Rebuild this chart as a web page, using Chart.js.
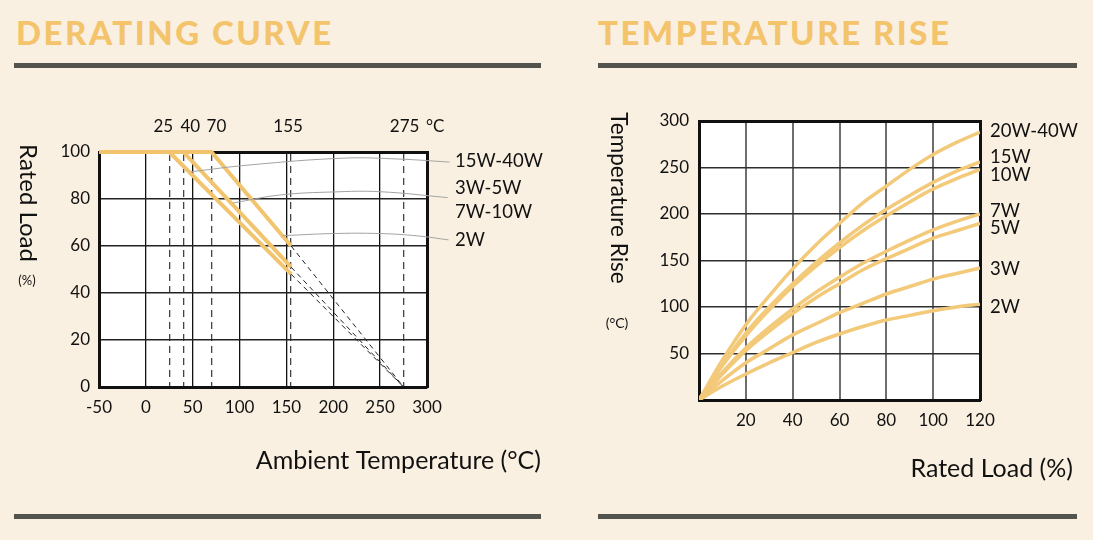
<!DOCTYPE html>
<html>
<head>
<meta charset="utf-8">
<script src="https://cdn.jsdelivr.net/npm/chart.js@4.4.1/dist/chart.umd.min.js"></script>
<style>
  body { margin: 0; width: 1093px; height: 540px; background: #faf0e1; position: relative; overflow: hidden; font-family: Lato, sans-serif; }
  .title { position: absolute; top: 12px; font-size: 33px; font-weight: 900; letter-spacing: 2.5px; color: #f3c46b; white-space: nowrap; }
  .rule { position: absolute; height: 5px; background: #54544e; }
  canvas { position: absolute; top: 0; }
</style>
</head>
<body>
<div class="title" style="left:16px">DERATING CURVE</div>
<div class="title" style="left:598px">TEMPERATURE RISE</div>
<div class="rule" style="left:14px;width:527px;top:63px"></div>
<div class="rule" style="left:598px;width:479px;top:63px"></div>
<div class="rule" style="left:14px;width:527px;top:514px"></div>
<div class="rule" style="left:598px;width:479px;top:514px"></div>
<canvas id="derating" width="560" height="540" style="left:0"></canvas>
<canvas id="rise" width="533" height="540" style="left:560px"></canvas>
<script>
// ---- derating curve data ----
const tempTicks = [-50, 0, 50, 100, 150, 200, 250, 300];
const loadTicks = [0, 20, 40, 60, 80, 100];
const kneeTemps = [25, 40, 70, 155, 275];
const kneeLabels = ['25', '40', '70', '155', '275'];

// [temperature, rated load %]
const curve15to40 = [[-50, 100], [70, 100], [155, 60]];
const curve3to10 = [[-50, 100], [40, 100], [155, 51]];
const curve2 = [[-50, 100], [25, 100], [155, 48]];
const tail15to40 = [[155, 60], [275, 0]];
const tail3to10 = [[155, 51], [275, 0]];
const tail2 = [[155, 48], [275, 0]];

// grey leader lines running out to the labels
const leader15to40 = [[48, 91.6], [111, 94.5], [212, 97.4], [270, 97.0], [324, 95.7]];
const leader3to10 = [[93, 78.3], [143, 81.7], [200, 83.0], [250, 83.1], [322, 80.6]];
const leader2 = [[146, 64.4], [200, 65.3], [250, 65.3], [290, 64.3], [323, 62.6]];

// ---- temperature rise data ----
const loadPoints = [0, 10, 20, 30, 40, 50, 60, 70, 80, 90, 100, 110, 120];
const rise20to40 = [0, 43, 81, 112, 141, 167, 190, 212, 230, 248, 264, 277, 288];
const rise15 = [0, 38, 72, 100, 125, 148, 169, 188, 205, 220, 234, 246, 256];
const rise10 = [0, 37, 69, 97, 122, 144, 164, 182, 198, 213, 227, 238, 248];
const rise7 = [0, 30, 56, 78, 98, 116, 132, 147, 160, 172, 183, 192, 200];
const rise5 = [0, 28, 53, 74, 93, 110, 125, 140, 152, 163, 174, 182, 190];
const rise3 = [0, 21, 40, 55, 70, 82, 94, 104, 114, 122, 130, 136, 142];
const rise2 = [0, 15, 28, 40, 51, 62, 71, 79, 86, 91, 96, 100, 103];
const riseNames = ['20W-40W', '15W', '10W', '7W', '5W', '3W', '2W'];
const riseLabelY = [131, 157, 175, 211, 228, 269, 307];

const orange = '#f2c46d';
const ink = '#111';
const pts = a => a.map(([x, y]) => ({x: x, y: y}));

const whiteArea = {
  id: 'whiteArea',
  beforeDraw(chart) {
    const a = chart.chartArea;
    chart.ctx.save();
    chart.ctx.fillStyle = '#fff';
    chart.ctx.fillRect(a.left, a.top, a.right - a.left, a.bottom - a.top);
    chart.ctx.restore();
  }
};

const mainLine = (data) => ({data: pts(data), borderColor: orange, borderWidth: 4, pointRadius: 0, clip: false});
const tailLine = (data) => ({data: pts(data), borderColor: '#222', borderWidth: 1, borderDash: [5, 4], pointRadius: 0});
const leaderLine = (data) => ({data: pts(data), borderColor: '#a3a3a3', borderWidth: 1, pointRadius: 0, tension: 0.4, clip: false});

new Chart(document.getElementById('derating'), {
  type: 'line',
  data: {
    datasets: [
      leaderLine(leader15to40), leaderLine(leader3to10), leaderLine(leader2),
      tailLine(tail15to40), tailLine(tail3to10), tailLine(tail2),
      mainLine(curve15to40), mainLine(curve3to10), mainLine(curve2)
    ]
  },
  options: {
    responsive: false,
    animation: false,
    layout: {padding: {left: 59, right: 133, top: 152, bottom: 123}},
    plugins: {legend: {display: false}, tooltip: {enabled: false}},
    scales: {
      x: {
        type: 'linear', min: -50, max: 300, position: 'bottom',
        afterBuildTicks: s => { s.ticks = tempTicks.map(v => ({value: v})); },
        grid: {color: ink, lineWidth: 1.3, drawTicks: false},
        border: {color: ink, width: 3},
        ticks: {padding: 10, color: ink, font: {family: 'Lato', size: 17}},
        afterFit: s => { s.height = 30; }
      },
      x2: {
        type: 'linear', min: -50, max: 300, position: 'top',
        afterBuildTicks: s => { s.ticks = kneeTemps.map(v => ({value: v})); },
        grid: {color: '#444', lineWidth: 1.3, drawTicks: false},
        border: {color: ink, width: 3, dash: [7, 5]},
        ticks: {display: false},
        afterFit: s => { s.height = 0; }
      },
      y: {
        min: 0, max: 100,
        afterBuildTicks: s => { s.ticks = loadTicks.map(v => ({value: v})); },
        grid: {color: '#222', lineWidth: 1.4, drawTicks: false},
        border: {color: ink, width: 3},
        ticks: {padding: 9, color: ink, font: {family: 'Lato', size: 17}},
        afterFit: s => { s.width = 40; }
      },
      y2: {
        position: 'right', min: 0, max: 100,
        grid: {display: false},
        border: {color: ink, width: 3},
        ticks: {display: false},
        afterFit: s => { s.width = 0; }
      }
    }
  },
  plugins: [whiteArea, {
    id: 'deratingText',
    afterDraw(chart) {
      const ctx = chart.ctx;
      const x = chart.scales.x;
      ctx.save();
      ctx.fillStyle = ink;
      ctx.textBaseline = 'middle';
      ctx.textAlign = 'center';
      ctx.font = '17px Lato';
      const shift = [-6, 7, 5, -3, 1];
      kneeTemps.forEach((t, i) => ctx.fillText(kneeLabels[i], x.getPixelForValue(t) + shift[i], 127));
      ctx.textAlign = 'left';
      ctx.fillText('°C', 426, 127);

      ctx.font = '18.5px Lato';
      ctx.fillText('15W-40W', 455, 161);
      ctx.fillText('3W-5W', 455, 188);
      ctx.fillText('7W-10W', 455, 212);
      ctx.fillText('2W', 455, 240);

      ctx.font = '25px Lato';
      ctx.textAlign = 'right';
      ctx.fillText('Ambient Temperature (°C)', 541, 461);

      ctx.textAlign = 'center';
      ctx.font = '13px Lato';
      ctx.fillText('(%)', 27, 281);
      ctx.translate(28, 203);
      ctx.rotate(Math.PI / 2);
      ctx.font = '24px Lato';
      ctx.fillText('Rated Load', 0, 0);
      ctx.restore();
    }
  }]
});

// ---- temperature rise chart ----
const riseSeries = [rise20to40, rise15, rise10, rise7, rise5, rise3, rise2];

new Chart(document.getElementById('rise'), {
  type: 'line',
  data: {
    datasets: riseSeries.map((s, i) => ({
      label: riseNames[i],
      data: s.map((v, j) => ({x: loadPoints[j], y: v})),
      borderColor: '#f3c97a', borderWidth: 3.5, pointRadius: 0,
      cubicInterpolationMode: 'monotone'
    }))
  },
  options: {
    responsive: false,
    animation: false,
    layout: {padding: {left: 99, right: 113, top: 121, bottom: 110}},
    plugins: {legend: {display: false}, tooltip: {enabled: false}},
    scales: {
      x: {
        type: 'linear', min: 0, max: 120, position: 'bottom',
        grid: {color: '#6e6e6e', lineWidth: 2, drawTicks: false},
        border: {color: ink, width: 3},
        ticks: {stepSize: 20, padding: 10, color: ink, font: {family: 'Lato', size: 17},
                callback: v => v === 0 ? '' : v},
        afterFit: s => { s.height = 30; }
      },
      x2: {
        type: 'linear', min: 0, max: 120, position: 'top',
        grid: {display: false},
        border: {color: ink, width: 3},
        ticks: {display: false},
        afterFit: s => { s.height = 0; }
      },
      y: {
        min: 0, max: 300,
        grid: {color: '#2e2e2e', lineWidth: 1.5, drawTicks: false},
        border: {color: ink, width: 3},
        ticks: {stepSize: 50, padding: 10, color: ink, font: {family: 'Lato', size: 17},
                callback: v => v === 0 ? '' : v},
        afterFit: s => { s.width = 40; }
      },
      y2: {
        position: 'right', min: 0, max: 300,
        grid: {display: false},
        border: {color: ink, width: 3},
        ticks: {display: false},
        afterFit: s => { s.width = 0; }
      }
    }
  },
  plugins: [whiteArea, {
    id: 'riseText',
    afterDraw(chart) {
      const ctx = chart.ctx;
      ctx.save();
      ctx.fillStyle = ink;
      ctx.textBaseline = 'middle';
      ctx.textAlign = 'left';
      ctx.font = '18.5px Lato';
      riseNames.forEach((n, i) => ctx.fillText(n, 430, riseLabelY[i]));

      ctx.font = '25px Lato';
      ctx.textAlign = 'right';
      ctx.fillText('Rated Load (%)', 513, 469);

      ctx.textAlign = 'center';
      ctx.font = '14px Lato';
      ctx.fillText('(°C)', 57, 323);
      ctx.translate(58, 198);
      ctx.rotate(Math.PI / 2);
      ctx.font = '22.5px Lato';
      ctx.fillText('Temperature Rise', 0, 0);
      ctx.restore();
    }
  }]
});
</script>
</body>
</html>
